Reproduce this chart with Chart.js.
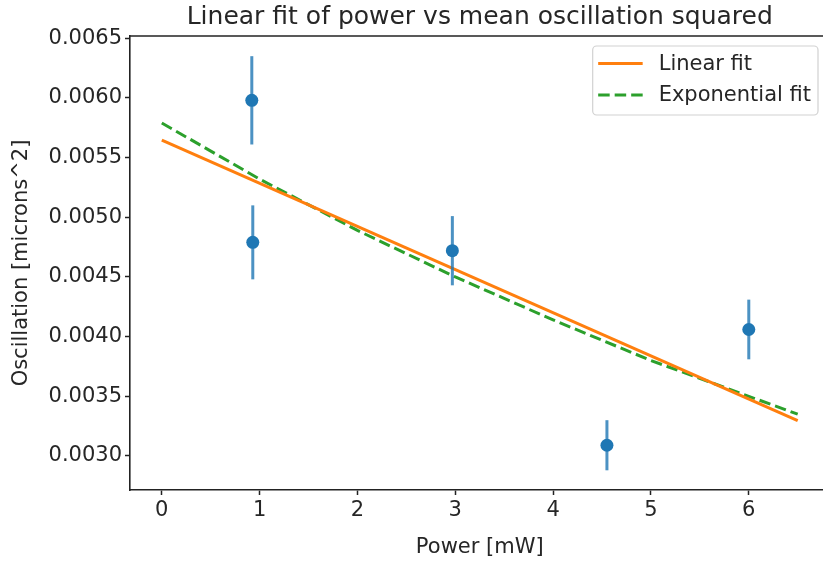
<!DOCTYPE html>
<html>
<head>
<meta charset="utf-8">
<title>Linear fit of power vs mean oscillation squared</title>
<script src="https://cdn.jsdelivr.net/npm/chart.js@4/dist/chart.umd.min.js"></script>
<style>
  html, body { margin: 0; padding: 0; background: #fff; overflow: hidden; }
  #wrap { width: 836px; height: 563px; }
</style>
</head>
<body>
<div id="wrap"><canvas id="fitChart" width="836" height="563"></canvas></div>
<script>
// measured points: power (mW) vs mean oscillation squared (microns^2)
const powerMw = [0.92, 0.93, 2.97, 4.55, 6.0];
const oscMean = [0.00598, 0.00479, 0.00472, 0.00309, 0.00406];
const oscErr = [0.00037, 0.00031, 0.00029, 0.00021, 0.00025];

// fitted curves
const linFitX = [0, 6.5];
const linFitY = [0.005647, 0.003296];
const expFitX = [0, 1, 2, 3, 4, 5, 6, 6.5];
const expFitY = [0.00579, 0.00532, 0.00489, 0.00450, 0.00414, 0.00380, 0.00350, 0.00335];

// tick labels
const xTicks = [0, 1, 2, 3, 4, 5, 6];
const yTicks = [0.0030, 0.0035, 0.0040, 0.0045, 0.0050, 0.0055, 0.0060, 0.0065];

const FONT = 'DejaVu Sans';
const INK = '#262626';
const SPINE = '#222';

function pts(xs, ys) {
  return xs.map((x, i) => ({ x: x, y: ys[i] }));
}

// vertical error bars under the markers of the data set
const errorBars = {
  id: 'errorBars',
  beforeDatasetDraw(chart, args) {
    const ds = chart.data.datasets[args.index];
    if (!ds.errors) return;
    const { ctx, scales: { x, y } } = chart;
    ctx.save();
    ctx.strokeStyle = 'rgba(31,119,180,0.8)';
    ctx.lineWidth = 3;
    ds.data.forEach((p, i) => {
      const px = x.getPixelForValue(p.x);
      ctx.beginPath();
      ctx.moveTo(px, y.getPixelForValue(p.y - ds.errors[i]));
      ctx.lineTo(px, y.getPixelForValue(p.y + ds.errors[i]));
      ctx.stroke();
    });
    ctx.restore();
  }
};

// top spine + boxed legend in the upper right of the axes
const frameAndLegend = {
  id: 'frameAndLegend',
  afterDraw(chart) {
    const { ctx, chartArea: a } = chart;
    ctx.save();
    ctx.strokeStyle = SPINE;
    ctx.lineWidth = 1.6;
    ctx.beginPath();
    ctx.moveTo(a.left - 0.8, a.top);
    ctx.lineTo(a.right, a.top);
    ctx.stroke();

    const items = chart.data.datasets.filter(d => d.showLine);
    ctx.font = '21px "' + FONT + '"';
    const textW = Math.max(...items.map(d => ctx.measureText(d.label).width));
    const w = 66 + textW + 7;
    const h = 69;
    const right = a.right - 11.5;
    const left = right - w;
    const top = a.top + 10;

    ctx.beginPath();
    ctx.roundRect(left, top, w, h, 4);
    ctx.fillStyle = 'rgba(255,255,255,0.8)';
    ctx.fill();
    ctx.strokeStyle = 'rgba(204,204,204,0.9)';
    ctx.lineWidth = 1.2;
    ctx.stroke();

    items.forEach((d, i) => {
      const ly = top + 17.5 + i * 31.5;
      ctx.beginPath();
      ctx.setLineDash(d.borderDash || []);
      ctx.strokeStyle = d.borderColor;
      ctx.lineWidth = d.borderWidth;
      ctx.moveTo(left + 5.5, ly);
      ctx.lineTo(left + 50, ly);
      ctx.stroke();
      ctx.setLineDash([]);
      ctx.fillStyle = INK;
      ctx.textBaseline = 'middle';
      ctx.textAlign = 'left';
      ctx.fillText(d.label, left + 66, ly + 1);
    });
    ctx.restore();
  }
};

const tickFont = { family: FONT, size: 21 };

new Chart(document.getElementById('fitChart'), {
  type: 'scatter',
  data: {
    datasets: [
      {
        label: 'Data',
        data: pts(powerMw, oscMean),
        errors: oscErr,
        showLine: false,
        pointRadius: 6.5,
        pointHoverRadius: 6.5,
        backgroundColor: '#1f77b4',
        borderWidth: 0
      },
      {
        label: 'Linear fit',
        data: pts(linFitX, linFitY),
        showLine: true,
        borderColor: '#ff7f0e',
        borderWidth: 3,
        pointRadius: 0,
        fill: false
      },
      {
        label: 'Exponential fit',
        data: pts(expFitX, expFitY),
        showLine: true,
        borderColor: '#2ca02c',
        borderWidth: 3,
        borderDash: [11.5, 5],
        pointRadius: 0,
        fill: false
      }
    ]
  },
  options: {
    responsive: false,
    animation: false,
    layout: { padding: { right: 2.5, left: 0, top: 0, bottom: 0 } },
    plugins: {
      legend: { display: false },
      tooltip: { enabled: false },
      title: {
        display: true,
        text: 'Linear fit of power vs mean oscillation squared',
        fullSize: false,
        color: INK,
        font: { family: FONT, size: 25, weight: 'normal' },
        padding: { top: 2, bottom: 4 }
      }
    },
    scales: {
      x: {
        type: 'linear',
        min: -0.325,
        max: 6.825,
        afterFit: s => { s.height = 73; },
        afterBuildTicks: s => { s.ticks = xTicks.map(v => ({ value: v })); },
        grid: { drawOnChartArea: false, drawTicks: true, tickLength: 5, tickColor: SPINE, tickWidth: 1.5 },
        border: { display: true, color: SPINE, width: 1.6 },
        ticks: { font: tickFont, color: INK, padding: 3, autoSkip: false, maxRotation: 0, callback: v => String(v) },
        title: { display: true, text: 'Power [mW]', color: INK, font: tickFont, padding: { top: 0, bottom: 3 } }
      },
      y: {
        type: 'linear',
        min: 0.002715,
        max: 0.006519,
        afterFit: s => { s.width = 130; },
        afterBuildTicks: s => { s.ticks = yTicks.map(v => ({ value: v })); },
        grid: { drawOnChartArea: false, drawTicks: true, tickLength: 5, tickColor: SPINE, tickWidth: 1.5 },
        border: { display: true, color: SPINE, width: 1.6 },
        ticks: { font: tickFont, color: INK, padding: 3, autoSkip: false, callback: v => v.toFixed(4) },
        title: { display: true, text: 'Oscillation [microns^2]', color: INK, font: tickFont, padding: { top: 9, bottom: 0 } }
      }
    }
  },
  plugins: [errorBars, frameAndLegend]
});
</script>
</body>
</html>
